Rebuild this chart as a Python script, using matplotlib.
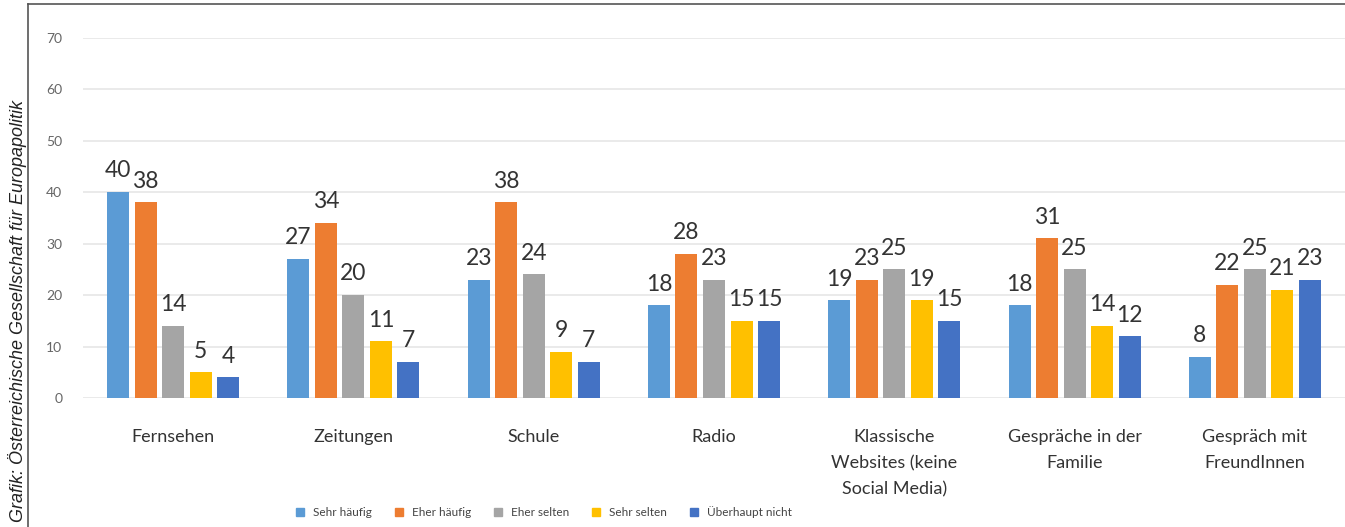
import matplotlib
matplotlib.use("Agg")
import matplotlib.pyplot as plt
import numpy as np
from matplotlib.lines import Line2D

categories = ["Fernsehen", "Zeitungen", "Schule", "Radio",
              "Klassische\nWebsites (keine\nSocial Media)",
              "Gespräche in der\nFamilie", "Gespräch mit\nFreundInnen"]
series_names = ["Sehr häufig", "Eher häufig", "Eher selten", "Sehr selten", "Überhaupt nicht"]
sehr_haeufig = [40, 27, 23, 18, 19, 18, 8]
eher_haeufig = [38, 34, 38, 28, 23, 31, 22]
eher_selten = [14, 20, 24, 23, 25, 25, 25]
sehr_selten = [5, 11, 9, 15, 19, 14, 21]
ueberhaupt_nicht = [4, 7, 7, 15, 15, 12, 23]
yticks = [0, 10, 20, 30, 40, 50, 60, 70]

colors = ["#5B9BD5", "#ED7D31", "#A5A5A5", "#FFC000", "#4472C4"]
series = [sehr_haeufig, eher_haeufig, eher_selten, sehr_selten, ueberhaupt_nicht]

plt.rcParams['font.family'] = ['Lato', 'DejaVu Sans']

W, H = 1345, 527
fig = plt.figure(figsize=(W/100, H/100), dpi=100)
ax = fig.add_axes([83/W, 1-398/H, (W-83)/W, (398-37.5)/H])

x = np.arange(len(categories))
slot = 0.1526
bw = 0.122
for i, (vals, c) in enumerate(zip(series, colors)):
    pos = x + (i - 2) * slot
    ax.bar(pos, vals, width=bw, color=c, zorder=3)
    for p, v in zip(pos, vals):
        ax.annotate(str(v), (p, v), xytext=(0, 10.5), textcoords='offset points',
                    ha='center', va='baseline', fontsize=16.5, color='#333333', zorder=4)

ax.set_ylim(0, 70)
ax.set_xlim(-0.5, len(categories) - 0.5)
ax.set_yticks(yticks)
ax.set_yticklabels([str(t) for t in yticks], fontsize=10, color='#666666')
ax.yaxis.grid(True, color='#e6e6e6', linewidth=1.2, zorder=0)
ax.set_xticks(x)
ax.set_xticklabels(categories, fontsize=13, color='#333333', linespacing=1.8, va='top')
ax.tick_params(axis='both', length=0)
ax.tick_params(axis='x', pad=22)
ax.tick_params(axis='y', pad=15)
for s in ax.spines.values():
    s.set_visible(False)

handles = [Line2D([0], [0], marker='s', color='none', markerfacecolor=c, markeredgecolor=c, markersize=6)
           for c in colors]
fig.legend(handles, series_names, loc='center', bbox_to_anchor=(540/W, 1-512/H), ncol=5,
           frameon=False, fontsize=8.5, handletextpad=0.1, columnspacing=1.3, labelcolor='#444444')

# frame lines
fig.add_artist(Line2D([28/W, 28/W], [0, 1-4/H], color='#555555', linewidth=1.2))
fig.add_artist(Line2D([28/W, 1], [1-4/H, 1-4/H], color='#555555', linewidth=1.2))

fig.text(18/W, 1-311/H, "Grafik: Österreichische Gesellschaft für Europapolitik", rotation=90,
         ha='center', va='center', fontsize=13, style='italic', family=['Liberation Sans', 'DejaVu Sans'],
         color='#222222')

fig.savefig("out.png", dpi=100)
